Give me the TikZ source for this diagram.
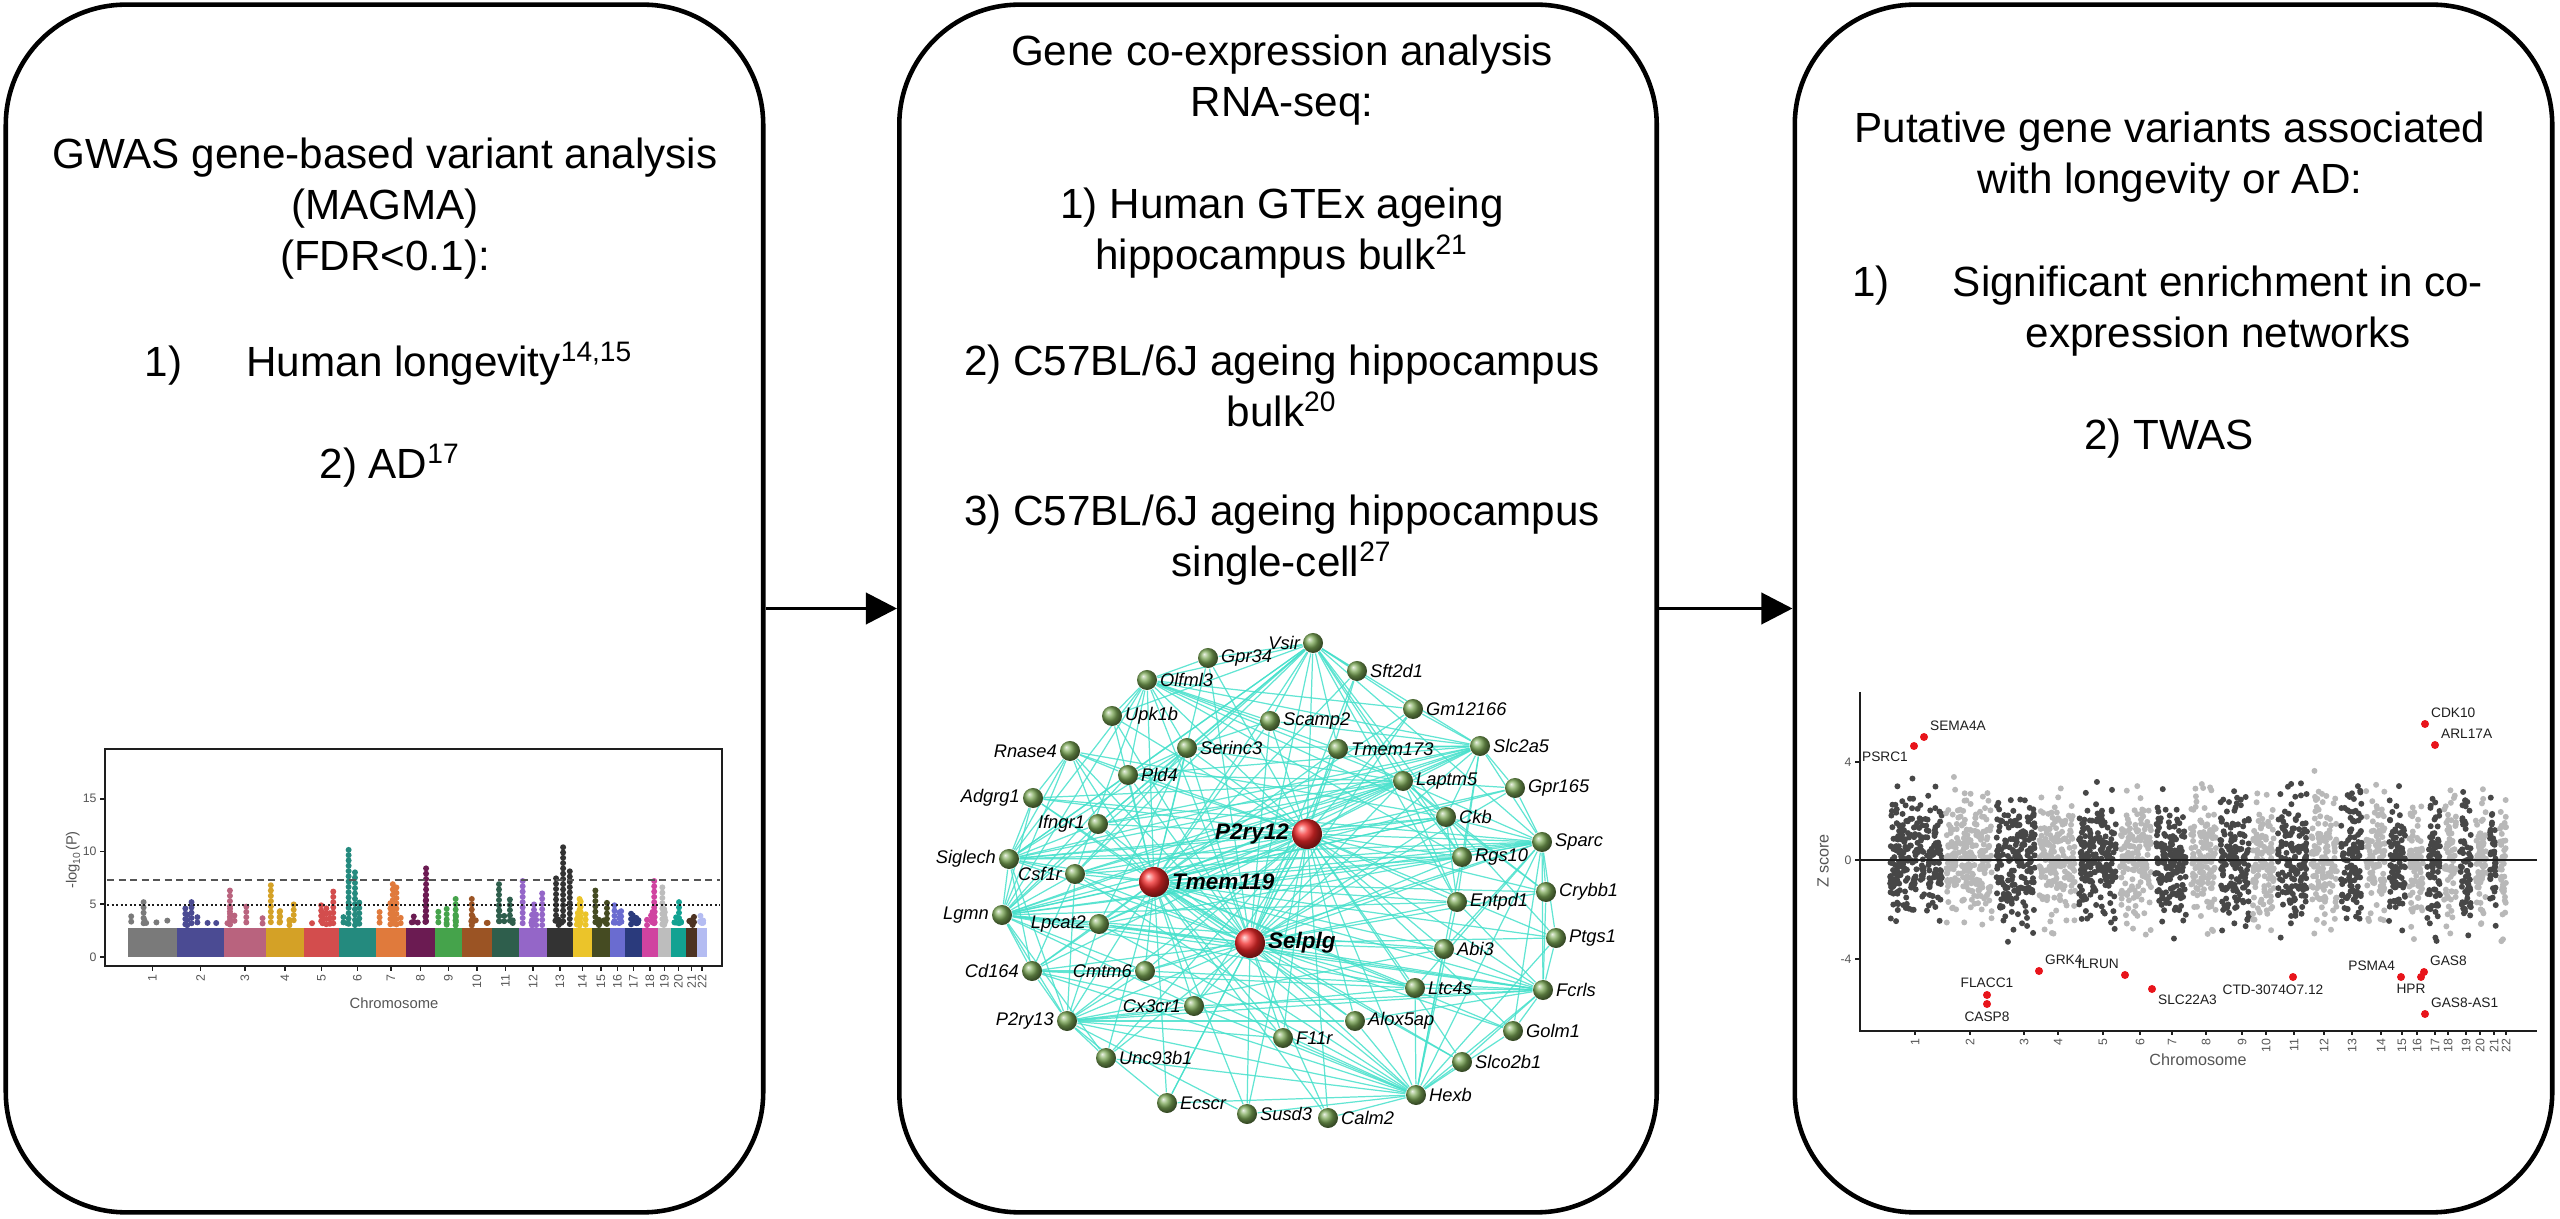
\documentclass[tikz,border=0pt]{standalone}
\usepackage{fontspec}
\setmainfont{Liberation Sans}
\usepackage{xcolor}
\definecolor{linkcyan}{HTML}{46E0CB}
\definecolor{genegreen}{HTML}{7AA655}
\definecolor{hubred}{HTML}{F22A2A}
\definecolor{hitred}{HTML}{E8141B}
\definecolor{zdark}{HTML}{474747}
\definecolor{zlight}{HTML}{B8B8B8}
\definecolor{axisdark}{HTML}{1E1E1E}
\definecolor{refgrey}{HTML}{555555}
% chromosome colours (Manhattan plot)
\definecolor{chrA}{HTML}{7A7A7A}
\definecolor{chrB}{HTML}{4B4B93}
\definecolor{chrC}{HTML}{B9637E}
\definecolor{chrD}{HTML}{D4A126}
\definecolor{chrE}{HTML}{D34D4D}
\definecolor{chrF}{HTML}{248A7E}
\definecolor{chrG}{HTML}{E07A3C}
\definecolor{chrH}{HTML}{6B1B52}
\definecolor{chrI}{HTML}{45A34B}
\definecolor{chrJ}{HTML}{9B5424}
\definecolor{chrK}{HTML}{2E5E4C}
\definecolor{chrL}{HTML}{9466C8}
\definecolor{chrM}{HTML}{333333}
\definecolor{chrN}{HTML}{EBC42A}
\definecolor{chrO}{HTML}{454B22}
\definecolor{chrP}{HTML}{6A6CD0}
\definecolor{chrQ}{HTML}{2A3A7C}
\definecolor{chrR}{HTML}{D043A0}
\definecolor{chrS}{HTML}{BDBDBD}
\definecolor{chrT}{HTML}{12A292}
\definecolor{chrU}{HTML}{4D3322}
\definecolor{chrV}{HTML}{B4BCF2}
\usepackage{tikz}
\usetikzlibrary{arrows.meta,positioning,backgrounds}

\tikzset{
  panel/.style={draw,line width=1.3pt,rounded corners=1.2cm,inner sep=0pt,
    minimum width=7.57cm,minimum height=12.07cm},
  flow/.style={line width=1.1pt,-{Triangle[length=0.31cm,width=0.31cm]}},
  boxtext/.style={align=center,inner sep=0pt,font=\fontsize{12}{14.5}\selectfont},
  ticklab/.style={inner sep=0.5pt,font=\fontsize{3.5}{4}\selectfont,text=refgrey},
  axlab/.style={inner sep=0.5pt,font=\fontsize{4.2}{5}\selectfont,text=refgrey},
  % network
  gene/.style={circle,inner sep=0pt,minimum size=0.2cm,ball color=genegreen},
  hub/.style={circle,inner sep=0pt,minimum size=0.3cm,ball color=hubred},
  gname/.style={inner sep=0.5pt,font=\fontsize{5.2}{6}\selectfont\itshape},
  hname/.style={inner sep=0.5pt,font=\fontsize{6.4}{7}\selectfont\bfseries\itshape},
  gl/.style={gene,label={[gname]left:#1}},
  gr/.style={gene,label={[gname]right:#1}},
  hl/.style={hub,label={[hname]left:#1}},
  hr/.style={hub,label={[hname]right:#1}},
  link/.style={draw=linkcyan,line width=0.35pt,opacity=0.85},
  % TWAS hits
  zhit/.style={circle,fill=hitred,inner sep=0pt,minimum size=0.08cm},
  zlab/.style={inner sep=0.6pt,font=\fontsize{3.9}{4.5}\selectfont,text=axisdark},
}

\begin{document}
\begin{tikzpicture}[x=0.01cm,y=-0.01cm]
\useasboundingbox (0,0) rectangle (2560,1219);
\pgfmathsetseed{4242}

% three panels and the flow between them
\node[panel] (gwas) at (384.5,608.5) {};
\node[panel] (coexp) at (1278,608.5) {};
\node[panel] (variants) at (2173.5,608.5) {};
\draw[flow] (gwas) -- (coexp);
\draw[flow] (coexp) -- (variants);

% panel texts
\node[boxtext] (gwastitle) at (385,209) {GWAS gene-based variant analysis\\(MAGMA)\\(FDR<0.1):};
\node[boxtext] (gwasone) at (389,364) {1)\hspace{0.64cm}Human longevity\textsuperscript{14,15}};
\node[boxtext] (gwastwo) at (390,466) {2) AD\textsuperscript{17}};

\node[boxtext] (coextitle) at (1282,80) {Gene co-expression analysis\\RNA-seq:};
\node[boxtext] (coexone) at (1282,233) {1) Human GTEx ageing\\hippocampus bulk\textsuperscript{21}};
\node[boxtext] (coextwo) at (1282,386) {2) C57BL/6J ageing hippocampus\\bulk\textsuperscript{20}};
\node[boxtext] (coexthree) at (1282,540) {3) C57BL/6J ageing hippocampus\\single-cell\textsuperscript{27}};

\node[boxtext] (vartitle) at (2170,157) {Putative gene variants associated\\with longevity or AD:};
\node[boxtext] (varonenum) at (1871,286) {1)};
\node[boxtext] (varone) at (2218,311) {Significant enrichment in co-\\expression networks};
\node[boxtext] (vartwo) at (2169,439) {2) TWAS};

% Manhattan plot (GWAS)
\foreach \s/\e/\cc/\pk [count=\ci] in {128/177/chrA/5.2,177/224/chrB/5.2,224/266/chrC/6.3,
  266/304/chrD/6.8,304/339/chrE/6.2,339/376/chrF/10.15,376/406/chrG/6.9,406/435/chrH/8.4,
  435/462/chrI/5.5,462/492/chrJ/5.5,492/519/chrK/6.9,519/547/chrL/7.2,547/573/chrM/10.4,
  573/592/chrN/5.5,592/610/chrO/6.3,610/625/chrP/4.9,625/642/chrQ/4.1,642/658/chrR/7.2,
  658/671/chrS/6.6,671/686/chrT/5.2,686/697/chrU/3.8,697/707/chrV/3.9}{
  \fill[\cc] (\s,957) rectangle (\e,928);
  \foreach \k in {1,...,6}{
    \pgfmathsetmacro\colx{\s+3+rnd*(\e-\s-6)}
    \pgfmathsetmacro\colh{\k==1 ? \pk : 3.2+rnd*rnd*(\pk-3.2)}
    \pgfmathtruncatemacro\nd{(\colh-3)/0.5}
    \foreach \jj in {0,...,\nd}
      \fill[\cc] (\colx,{957-10.55*(\colh-\jj*0.5)}) circle (0.03cm);
  }
  \pgfmathsetmacro\mx{(\s+\e)/2}
  \draw[axisdark,line width=0.5pt] (\mx,966) -- (\mx,971);
  \node[ticklab,rotate=90,anchor=east] (mc\ci) at (\mx,972) {\ci};
}
\draw[refgrey,line width=0.55pt,dash pattern=on 0.07cm off 0.045cm] (107,880) -- (720,880);
\draw[axisdark,line width=0.5pt,dash pattern=on 0.02cm off 0.025cm] (107,905) -- (720,905);
\draw[axisdark,line width=0.65pt] (105,749) rectangle (722,966);
\foreach \v in {0,5,10,15}{
  \draw[axisdark,line width=0.5pt] (100,{957-10.55*\v}) -- (105,{957-10.55*\v});
  \node[ticklab,anchor=east] (my\v) at (99,{957-10.55*\v}) {\v};
}
\node[axlab,rotate=90] (mylab) at (73,860) {-log\textsubscript{10}(P)};
\node[axlab] (mxlab) at (394,1003) {Chromosome};

% co-expression network
\node[gl=Vsir] (vsir) at (1313,643) {};
\node[gr=Gpr34] (gpr34) at (1208,658) {};
\node[gr=Olfml3] (olfml3) at (1147,680) {};
\node[gr=Sft2d1] (sft2d1) at (1357,671) {};
\node[gr=Gm12166] (gm12166) at (1413,709) {};
\node[gr=Upk1b] (upk1b) at (1112,716) {};
\node[gr=Scamp2] (scamp2) at (1270,721) {};
\node[gl=Rnase4] (rnase4) at (1070,751) {};
\node[gr=Serinc3] (serinc3) at (1187,748) {};
\node[gr=Tmem173] (tmem173) at (1338,749) {};
\node[gr=Slc2a5] (slc2a5) at (1480,746) {};
\node[gr=Pld4] (pld4) at (1128,775) {};
\node[gr=Laptm5] (laptm5) at (1403,781) {};
\node[gr=Gpr165] (gpr165) at (1515,788) {};
\node[gl=Adgrg1] (adgrg1) at (1033,798) {};
\node[gl=Ifngr1] (ifngr1) at (1098,824) {};
\node[gr=Ckb] (ckb) at (1446,817) {};
\node[gr=Sparc] (sparc) at (1542,842) {};
\node[gl=Siglech] (siglech) at (1009,859) {};
\node[gr=Rgs10] (rgs10) at (1462,857) {};
\node[gl=Csf1r] (csf1r) at (1075,874) {};
\node[gr=Crybb1] (crybb1) at (1546,892) {};
\node[gl=Lgmn] (lgmn) at (1002,915) {};
\node[gr=Entpd1] (entpd1) at (1457,902) {};
\node[gl=Lpcat2] (lpcat2) at (1099,924) {};
\node[gr=Ptgs1] (ptgs1) at (1556,938) {};
\node[gr=Abi3] (abi3) at (1444,949) {};
\node[gl=Cd164] (cd164) at (1032,971) {};
\node[gl=Cmtm6] (cmtm6) at (1145,971) {};
\node[gr=Ltc4s] (ltc4s) at (1415,988) {};
\node[gr=Fcrls] (fcrls) at (1543,990) {};
\node[gl=Cx3cr1] (cx3cr1) at (1194,1006) {};
\node[gl=P2ry13] (p2ry13) at (1067,1021) {};
\node[gr=Alox5ap] (alox5ap) at (1355,1021) {};
\node[gr=Golm1] (golm1) at (1513,1031) {};
\node[gr=F11r] (f11r) at (1283,1038) {};
\node[gr=Unc93b1] (unc93b1) at (1106,1058) {};
\node[gr=Slco2b1] (slco2b1) at (1462,1062) {};
\node[gr=Hexb] (hexb) at (1416,1095) {};
\node[gr=Ecscr] (ecscr) at (1167,1103) {};
\node[gr=Susd3] (susd3) at (1247,1114) {};
\node[gr=Calm2] (calm2) at (1328,1118) {};
\node[hl=P2ry12] (p2ry12) at (1307,834) {};
\node[hr=Tmem119] (tmem119) at (1154,882) {};
\node[hr=Selplg] (selplg) at (1250,943) {};
\begin{scope}[on background layer]
  % hubs are linked to every gene
  \foreach \h in {p2ry12,tmem119,selplg}
    \foreach \b in {vsir,gpr34,olfml3,sft2d1,gm12166,upk1b,scamp2,rnase4,serinc3,tmem173,
      slc2a5,pld4,laptm5,gpr165,adgrg1,ifngr1,ckb,sparc,siglech,rgs10,csf1r,crybb1,lgmn,
      entpd1,lpcat2,ptgs1,abi3,cd164,cmtm6,ltc4s,fcrls,cx3cr1,p2ry13,alox5ap,golm1,f11r,
      unc93b1,slco2b1,hexb,ecscr,susd3,calm2}
      \draw[link] (\h) -- (\b);
  \draw[link] (p2ry12) -- (tmem119) -- (selplg) -- (p2ry12);
  \foreach \a/\bs in {
    vsir/{gpr34,olfml3,upk1b,serinc3,scamp2,tmem173,slc2a5,laptm5,gm12166,sft2d1,pld4,ifngr1,csf1r,ckb,rgs10,sparc,entpd1,lgmn,siglech},
    olfml3/{gpr34,upk1b,serinc3,scamp2,tmem173,slc2a5,laptm5,gm12166,pld4,lgmn,siglech,csf1r,ckb,rgs10},
    slc2a5/{laptm5,tmem173,gm12166,scamp2,serinc3,pld4,ifngr1,csf1r,siglech,lgmn,ckb,rgs10,sparc,gpr165,entpd1},
    laptm5/{tmem173,serinc3,pld4,adgrg1,ifngr1,siglech,csf1r,lgmn,lpcat2,ckb,rgs10,sparc,gpr165,crybb1,entpd1},
    lgmn/{siglech,adgrg1,csf1r,ifngr1,pld4,rnase4,cd164,p2ry13,lpcat2,cmtm6,cx3cr1,unc93b1,rgs10,sparc,ckb,entpd1,abi3,fcrls,ltc4s},
    p2ry13/{cd164,lpcat2,cmtm6,cx3cr1,unc93b1,siglech,csf1r,f11r,alox5ap,ltc4s,fcrls,abi3,hexb,susd3,ecscr},
    hexb/{cx3cr1,f11r,susd3,calm2,ecscr,unc93b1,cd164,cmtm6,lpcat2,abi3,ltc4s,slco2b1,golm1,fcrls,alox5ap,entpd1,ptgs1,sparc,rgs10,csf1r},
    sparc/{fcrls,crybb1,ptgs1,rgs10,ckb,gpr165,golm1,ltc4s,abi3,siglech,csf1r,adgrg1,cmtm6,lpcat2},
    fcrls/{ltc4s,abi3,alox5ap,cx3cr1,cmtm6,lpcat2,ptgs1,entpd1,golm1,slco2b1,crybb1},
    siglech/{adgrg1,csf1r,ifngr1,cd164,rnase4,pld4,serinc3,ckb,rgs10},
    cd164/{csf1r,lpcat2,cmtm6,cx3cr1,ltc4s},
    rnase4/{adgrg1,pld4,ifngr1,ckb},
    serinc3/{scamp2,pld4,ifngr1,csf1r,lpcat2},
    ckb/{rgs10,entpd1,crybb1,ptgs1}}
    \foreach \b in \bs
      \draw[link] (\a) -- (\b);
\end{scope}

% TWAS plot
\foreach \s/\e/\g/\tk [count=\ci] in {1888/1944/zdark/1915,1944/1994/zlight/1970,1994/2037/zdark/2024,
  2037/2077/zlight/2058,2077/2118/zdark/2103,2118/2153/zlight/2140,2153/2188/zdark/2172,
  2188/2218/zlight/2206,2218/2251/zdark/2242,2251/2276/zlight/2266,2276/2309/zdark/2294,
  2309/2339/zlight/2324,2339/2364/zdark/2352,2364/2387/zlight/2381,2387/2407/zdark/2402,
  2407/2425/zlight/2417,2425/2442/zdark/2435,2442/2458/zlight/2448,2458/2473/zdark/2466,
  2473/2488/zlight/2480,2488/2498/zdark/2494,2498/2508/zlight/2506}{
  \pgfmathtruncatemacro\nn{(\e-\s)*4.5}
  \foreach \jj in {1,...,\nn}{
    \pgfmathsetmacro\ptx{\s+2+rnd*(\e-\s-4)}
    \pgfmathsetmacro\ptz{(rand+rand+rand)*1.25}
    \fill[\g] (\ptx,{860-24.5*\ptz}) circle (0.03cm);
  }
  \draw[axisdark,line width=0.45pt] (\tk,1031) -- (\tk,1035);
  \node[ticklab,rotate=90,anchor=east] (zc\ci) at (\tk,1036) {\ci};
}
\draw[axisdark,line width=0.75pt] (1860,692) -- (1860,1031) -- (2537,1031);
\draw[axisdark,line width=0.75pt] (1860,860) -- (2537,860);
\foreach \v/\yy in {4/762,0/860,-4/959}{
  \draw[axisdark,line width=0.45pt] (1855,\yy) -- (1860,\yy);
  \node[ticklab,anchor=east] (zy\yy) at (1854,\yy) {\v};
}
\node[axlab,rotate=90,font=\fontsize{4.6}{5}\selectfont] (zylab) at (1823,861) {Z score};
\node[axlab,font=\fontsize{4.6}{5}\selectfont] (zxlab) at (2198,1060) {Chromosome};
\node[zhit,label={[zlab]below left:PSRC1}] (psrc1) at (1914,746) {};
\node[zhit,label={[zlab]above right:SEMA4A}] (sema4a) at (1924,737) {};
\node[zhit,label={[zlab]above right:CDK10}] (cdk10) at (2425,724) {};
\node[zhit,label={[zlab]above right:ARL17A}] (arl17a) at (2435,745) {};
\node[zhit,label={[zlab]above right:GRK4}] (grk4) at (2039,971) {};
\node[zhit,label={[zlab]above left:ILRUN}] (ilrun) at (2125,975) {};
\node[zhit,label={[zlab]above:FLACC1}] (flacc1) at (1987,995) {};
\node[zhit,label={[zlab]below:CASP8}] (casp8) at (1987,1004) {};
\node[zhit,label={[zlab]below right:SLC22A3}] (slc22a3) at (2152,989) {};
\node[zhit,label={[zlab,xshift=-0.2cm]below:CTD-3074O7.12}] (ctd) at (2293,977) {};
\node[zhit,label={[zlab]above left:PSMA4}] (psma4) at (2401,977) {};
\node[zhit,label={[zlab,xshift=-0.1cm]below:HPR}] (hpr) at (2421,977) {};
\node[zhit,label={[zlab]above right:GAS8}] (gas8) at (2424,972) {};
\node[zhit,label={[zlab]above right:GAS8-AS1}] (gas8as1) at (2425,1014) {};
\end{tikzpicture}
\end{document}
